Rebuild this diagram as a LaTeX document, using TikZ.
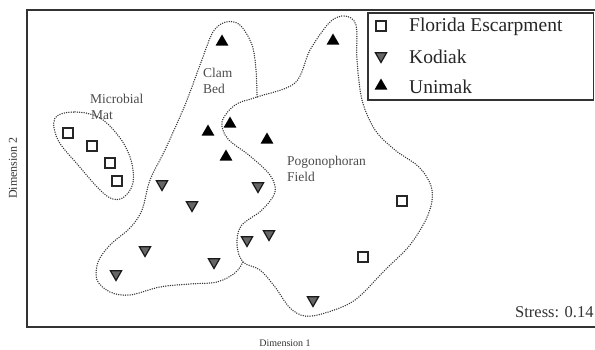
\documentclass[tikz,border=0pt]{standalone}
\usepackage{fontspec}
\setmainfont{Liberation Serif}
\usetikzlibrary{shapes.geometric}
\begin{document}
\begin{tikzpicture}[x=1pt,y=-1pt,
  fe/.style={draw=black!85, line width=1.8pt, fill=white, rectangle, minimum size=9.5pt, inner sep=0pt},
  kod/.style={draw=black!90, line width=1.2pt, fill=black!60, regular polygon, regular polygon sides=3, shape border rotate=180, minimum size=13pt, inner sep=0pt},
  uni/.style={fill=black, regular polygon, regular polygon sides=3, minimum size=15pt, inner sep=0pt},
  contour/.style={draw=black!80, line width=1.5pt, line cap=round, dash pattern=on 0pt off 2.3pt},
  region/.style={font=\fontsize{13.5}{14}\selectfont, text=black!70, anchor=west, inner sep=0pt},
  legtext/.style={font=\fontsize{19.5}{20}\selectfont, text=black!85, anchor=west, inner sep=0pt},
  axlabel/.style={text=black!80, inner sep=0pt},
  frame/.style={draw=black!80, line width=1.8pt}
]
\useasboundingbox (0,0) rectangle (595,350);
\fill[white] (0,0) rectangle (595,350);

% plot frame
\draw[frame] (600,10) -- (27,10) -- (27,327) -- (600,327);

% contours
\draw[contour] plot[smooth cycle, tension=0.6] coordinates {
  (55,118) (75,112) (100,118) (120,138) (131,160) (133,183) (124,197)
  (113,199) (100,190) (78,165) (58,140)};
\draw[contour] plot[smooth cycle, tension=0.55] coordinates {
  (243,262) (237,245) (241,226) (262,210) (275,192) (270,175) (250,156)
  (228,139) (222,122) (235,105) (257,97) (295,83) (310,50) (330,22)
  (345,16) (356,25) (357,60) (362,100) (375,130) (395,150) (420,168)
  (432,190) (428,215) (410,245) (385,270) (355,300) (325,313) (305,316)
  (290,308) (275,287) (260,270)};
\draw[contour] plot[smooth, tension=0.55] coordinates {
  (257,97) (256,70) (252,45) (240,25) (226,22) (213,32) (200,65) (185,105)
  (165,150) (150,180) (142,210) (130,228) (110,245) (98,262) (97,280)
  (110,292) (130,295) (160,287) (190,284) (217,282) (235,273) (243,262)};

% region labels
\node[region] (lmic) at (90,99) {Microbial};
\node[region] (lmat) at (91,115) {Mat};
\node[region] (lclam) at (203,73) {Clam};
\node[region] (lbed) at (203,89) {Bed};
\node[region] (lpog) at (287,162) {Pogonophoran};
\node[region] (lfield) at (287,177) {Field};

% Florida Escarpment
\node[fe] (f1) at (68,133) {};
\node[fe] (f2) at (92,146) {};
\node[fe] (f3) at (110,163) {};
\node[fe] (f4) at (117,181) {};
\node[fe] (f5) at (402,201) {};
\node[fe] (f6) at (363,257) {};

% Kodiak
\node[kod] (k1) at (162,184) {};
\node[kod] (k2) at (192,205) {};
\node[kod] (k3) at (258,186) {};
\node[kod] (k4) at (145,250) {};
\node[kod] (k5) at (116,274) {};
\node[kod] (k6) at (214,262) {};
\node[kod] (k7) at (247,240) {};
\node[kod] (k8) at (269,234) {};
\node[kod] (k9) at (313,300) {};

% Unimak
\node[uni] (u1) at (222,42) {};
\node[uni] (u2) at (333,41) {};
\node[uni] (u3) at (230,124) {};
\node[uni] (u4) at (208,132) {};
\node[uni] (u5) at (226,157) {};
\node[uni] (u6) at (267,140) {};

% legend
\draw[frame, line width=1.6pt] (368,13) rectangle (593.5,100);
\node[fe] (lgf) at (381,26) {};
\node[kod] (lgk) at (381,56) {};
\node[uni] (lgu) at (381,86) {};
\node[legtext] (tf) at (409,27) {Florida Escarpment};
\node[legtext] (tk) at (409,57) {Kodiak};
\node[legtext] (tu) at (409,87) {Unimak};

% stress and axes
\node[axlabel, anchor=west, font=\fontsize{16.5}{17}\selectfont] (stress) at (515,312) {Stress: 0.14};
\node[axlabel, font=\fontsize{10}{11}\selectfont] (d1) at (285,343) {Dimension 1};
\node[axlabel, rotate=90, font=\fontsize{12}{13}\selectfont] (d2) at (13,168) {Dimension 2};
\end{tikzpicture}
\end{document}
